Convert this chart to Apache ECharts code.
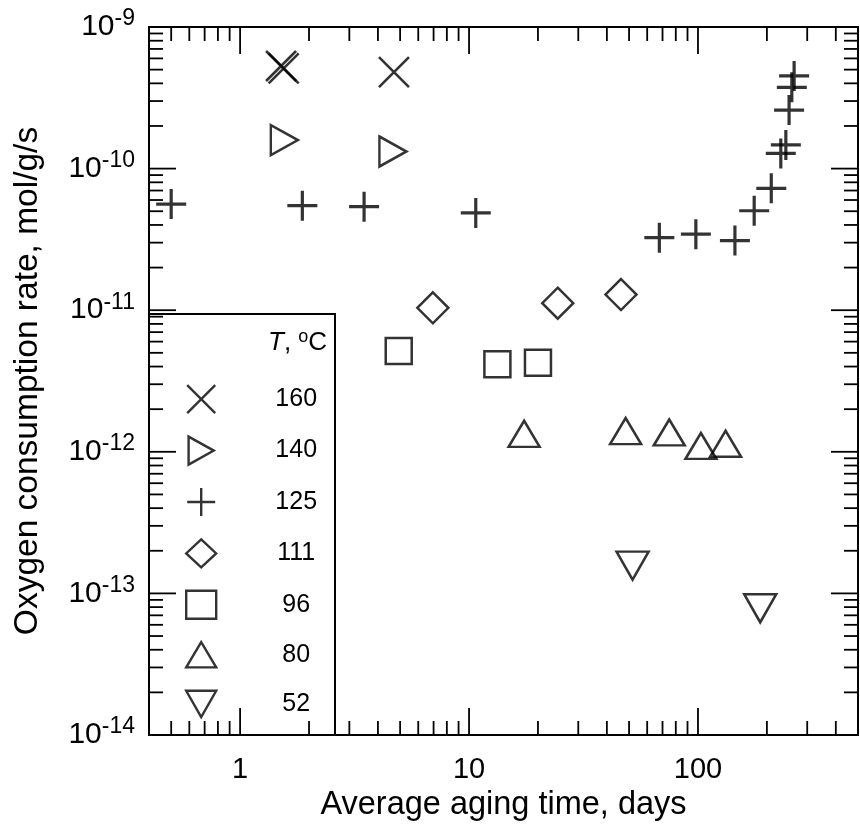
<!DOCTYPE html>
<html><head><meta charset="utf-8">
<script src="https://cdn.jsdelivr.net/npm/echarts@6/dist/echarts.min.js"></script>
<style>html,body{margin:0;padding:0;background:#fff}#c{width:860px;height:827px}</style>
</head><body><div id="c"></div>
<script>
// ---- data (days, mol/g/s) ----
const seriesNames = ['160','140','125','111','96','80','52'];
const t160_x = [1.51, 1.55, 4.70];
const t160_y = [5.3e-10, 5.1e-10, 4.8e-10];
const t140_x = [1.56, 4.65];
const t140_y = [1.59e-10, 1.32e-10];
const t125_x = [0.50, 1.87, 3.48, 10.7, 67.8, 97.9, 145, 176, 209, 230, 242, 250, 257, 263];
const t125_y = [5.62e-11, 5.47e-11, 5.38e-11, 4.86e-11, 3.25e-11, 3.44e-11, 3.10e-11, 5.04e-11, 7.26e-11, 1.28e-10, 1.47e-10, 2.59e-10, 3.75e-10, 4.51e-10];
const t111_x = [6.95, 24.4, 46.1];
const t111_y = [1.04e-11, 1.12e-11, 1.29e-11];
const t96_x = [4.93, 13.3, 20.0];
const t96_y = [5.15e-12, 4.15e-12, 4.26e-12];
const t80_x = [17.4, 48.3, 74.9, 103, 132];
const t80_y = [1.34e-12, 1.40e-12, 1.37e-12, 1.10e-12, 1.14e-12];
const t52_x = [51.8, 187];
const t52_y = [1.57e-13, 7.85e-14];

// ---- axes ----
const xMin = 0.4, xMax = 500;
const yMin = 1e-14, yMax = 1e-9;
const xDecades = [0.1, 1, 10, 100];
const yDecades = [1e-14, 1e-13, 1e-12, 1e-11, 1e-10];
const tickMultipliers = [1, 2, 3, 4, 5, 6, 7, 8, 9];
const xTickLabels = ['1', '10', '100'];

const FONT = '"Liberation Sans", Arial, sans-serif';

function zip(xs, ys) { return xs.map((x, i) => [x, ys[i]]); }

// tick list built from the axis decades
const ticks = [];
xDecades.forEach(d => tickMultipliers.forEach(m => {
  const v = m * d;
  if (v > xMin * 1.0001 && v < xMax * 0.9999) ticks.push([v, yMin, 0, m === 1 ? 1 : 0]);
}));
yDecades.forEach(d => tickMultipliers.forEach(m => {
  const v = m * d;
  if (v > yMin * 1.0001 && v < yMax * 0.9999) ticks.push([xMin, v, 1, m === 1 ? 1 : 0]);
}));

function renderTick(params, api) {
  const kind = api.value(2), major = api.value(3);
  const L = major ? 27 : 14;
  const cs = params.coordSys;
  const st = { stroke: '#000', lineWidth: 1.8 };
  if (kind === 0) {
    const px = api.coord([api.value(0), yMin])[0];
    return { type: 'group', children: [
      { type: 'line', shape: { x1: px, y1: cs.y + cs.height, x2: px, y2: cs.y + cs.height - L }, style: st },
      { type: 'line', shape: { x1: px, y1: cs.y, x2: px, y2: cs.y + L }, style: st }
    ]};
  }
  const py = api.coord([xMin, api.value(1)])[1];
  return { type: 'group', children: [
    { type: 'line', shape: { x1: cs.x, y1: py, x2: cs.x + L, y2: py }, style: st },
    { type: 'line', shape: { x1: cs.x + cs.width, y1: py, x2: cs.x + cs.width - L, y2: py }, style: st }
  ]};
}

const SYM_X = 'path://M0,0L10,10M10,0L0,10';
const SYM_PLUS = 'path://M5,0L5,10M0,5L10,5';
const SYM_RIGHT = 'path://M0,0L27,15L0,30Z';
const SYM_UP = 'path://M15.5,0L31,26L0,26Z';
const SYM_DOWN = 'path://M0,0L32,0L16,28Z';

const baseItem = { color: 'rgba(0,0,0,0)', borderColor: '#000', borderWidth: 2.5 };
function sc(name, data, symbol, size, bw) {
  return { type: 'scatter', name, data, symbol, symbolSize: size,
    itemStyle: Object.assign({}, baseItem, { borderWidth: bw || 2.5 }), z: 5,
    emphasis: { disabled: true } };
}

const chart = echarts.init(document.getElementById('c'), null, { renderer: 'canvas' });
chart.setOption({
  animation: false,
  backgroundColor: '#fff',
  textStyle: { fontFamily: FONT },
  grid: { left: 149, top: 27, width: 709, height: 708, show: true, borderColor: '#000', borderWidth: 2 },
  xAxis: {
    type: 'log', logBase: 10, min: xMin, max: xMax,
    name: 'Average aging time, days', nameLocation: 'middle', nameGap: 47,
    nameTextStyle: { fontSize: 32.5, color: '#000', fontFamily: FONT },
    axisLine: { show: true, lineStyle: { color: '#000', width: 2 } },
    axisTick: { show: false }, splitLine: { show: false },
    axisLabel: { fontSize: 29, color: '#000', margin: 20, fontFamily: FONT,
      showMinLabel: false, showMaxLabel: false,
      formatter: v => { const e = Math.log10(v); if (Math.abs(e - Math.round(e)) > 1e-6) return ''; const s = String(Math.round(Math.pow(10, e))); return xTickLabels.indexOf(s) >= 0 ? s : ''; } }
  },
  yAxis: {
    type: 'log', logBase: 10, min: yMin, max: yMax,
    name: 'Oxygen consumption rate, mol/g/s', nameLocation: 'middle', nameGap: 104,
    nameTextStyle: { fontSize: 33.5, color: '#000', fontFamily: FONT },
    axisLine: { show: true, lineStyle: { color: '#000', width: 2 } },
    axisTick: { show: false }, splitLine: { show: false },
    axisLabel: { color: '#000', margin: 14, fontFamily: FONT,
      formatter: v => '{b|10}{s|' + Math.round(Math.log10(v)) + '}',
      rich: { b: { fontSize: 30, fontFamily: FONT, color: '#000' },
              s: { fontSize: 23, fontFamily: FONT, color: '#000', padding: [0, 0, 16, 0] } } }
  },
  legend: {
    orient: 'vertical', left: 185, top: 384, padding: 0,
    itemWidth: 30, itemHeight: 28, itemGap: 21,
    data: seriesNames,
    itemStyle: { color: 'rgba(0,0,0,0)', borderColor: '#000', borderWidth: 2.4 },
    formatter: n => '{n|' + n + '}',
    textStyle: { fontSize: 25, color: '#000', fontFamily: FONT,
      rich: { n: { fontSize: 25, fontFamily: FONT, color: '#000', width: 56, align: 'center', lineHeight: 28, padding: [0, 0, 0, 47] } } }
  },
  graphic: [
    { type: 'polyline', shape: { points: [[149, 314], [335, 314], [335, 735]] },
      style: { stroke: '#000', lineWidth: 2, fill: null }, z: 10 },
    { type: 'text', x: 268, y: 343, z: 10,
      style: { text: '{i|T}{r|, }{s|o}{r|C}', verticalAlign: 'middle', fill: '#000',
        rich: { i: { fontSize: 26, fontStyle: 'italic', fontFamily: FONT },
                r: { fontSize: 26, fontFamily: FONT },
                s: { fontSize: 18, fontFamily: FONT, padding: [0, 0, 12, 0] } } } }
  ],
  series: [
    { type: 'custom', name: 'ticks', data: ticks, renderItem: renderTick, clip: false, silent: true, z: 3 },
    sc('160', zip(t160_x, t160_y), SYM_X, 30, 2.6),
    sc('140', zip(t140_x, t140_y), SYM_RIGHT, [27, 30]),
    sc('125', zip(t125_x, t125_y), SYM_PLUS, 30, 3.2),
    sc('111', zip(t111_x, t111_y), 'diamond', 31),
    sc('96', zip(t96_x, t96_y), 'rect', 26),
    sc('80', zip(t80_x, t80_y), SYM_UP, [31, 26]),
    sc('52', zip(t52_x, t52_y), SYM_DOWN, [32, 28])
  ]
});
</script></body></html>
